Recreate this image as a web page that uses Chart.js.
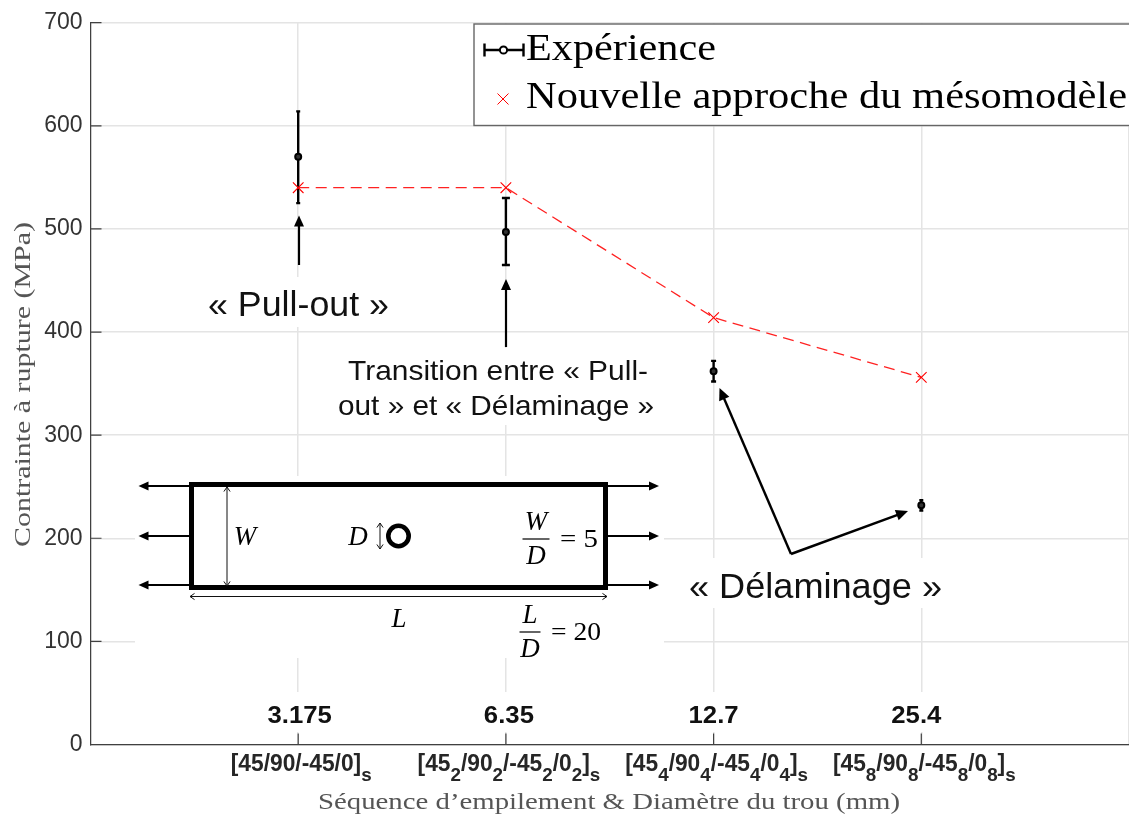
<!DOCTYPE html>
<html>
<head>
<meta charset="utf-8">
<style>html,body{margin:0;padding:0;background:#fff;overflow:hidden}#w{position:relative;width:1129px;height:814px}</style>
<script src="https://cdn.jsdelivr.net/npm/chart.js@4"></script>
</head>
<body>
<div id="w"><canvas id="c" width="1129" height="814"></canvas></div>
<script>
const positions = [1, 2, 3, 4];
const diameters = ["3.175", "6.35", "12.7", "25.4"];
const sequences = ["[45/90/-45/0]_s", "[45_2/90_2/-45_2/0_2]_s", "[45_4/90_4/-45_4/0_4]_s", "[45_8/90_8/-45_8/0_8]_s"];
const experience = [570, 497, 362, 232];
const errorLow = [525, 465, 352, 227];
const errorHigh = [614, 530, 372, 237];
const model = [540, 540, 414, 356];
const expLabel = "Expérience";
const modelLabel = "Nouvelle approche du mésomodèle";
const yLabel = "Contrainte à rupture (MPa)";
const xLabel = "Séquence d’empilement & Diamètre du trou (mm)";

const SANS = '"Liberation Sans", Arial, sans-serif';
const SERIF = '"Liberation Serif", "Times New Roman", serif';

// keep the axes flush with the canvas edge: markers must not add layout padding
Chart.registry.getController('line').prototype.getMaxOverflow = function () { return 0; };

function fitText(ctx, text, x, y, width, rot) {
  const w = ctx.measureText(text).width;
  ctx.save();
  ctx.translate(x, y);
  if (rot) ctx.rotate(rot);
  ctx.scale(width / w, 1);
  ctx.fillText(text, 0, 0);
  ctx.restore();
}
function arrow(ctx, x1, y1, x2, y2, lw, hl, hw, color) {
  const a = Math.atan2(y2 - y1, x2 - x1);
  ctx.strokeStyle = ctx.fillStyle = color || '#000';
  ctx.lineWidth = lw;
  ctx.beginPath();
  ctx.moveTo(x1, y1);
  ctx.lineTo(x2 - Math.cos(a) * hl * 0.8, y2 - Math.sin(a) * hl * 0.8);
  ctx.stroke();
  ctx.beginPath();
  ctx.moveTo(x2, y2);
  ctx.lineTo(x2 - Math.cos(a) * hl - Math.sin(a) * hw, y2 - Math.sin(a) * hl + Math.cos(a) * hw);
  ctx.lineTo(x2 - Math.cos(a) * hl + Math.sin(a) * hw, y2 - Math.sin(a) * hl - Math.cos(a) * hw);
  ctx.closePath();
  ctx.fill();
}
function thinArrow(ctx, x1, y1, x2, y2) {
  const a = Math.atan2(y2 - y1, x2 - x1), h = 5.5, t = 0.6;
  ctx.strokeStyle = '#111';
  ctx.lineWidth = 1;
  ctx.beginPath();
  ctx.moveTo(x1, y1); ctx.lineTo(x2, y2);
  [[x1, y1, a + Math.PI], [x2, y2, a]].forEach(([x, y, d]) => {
    ctx.moveTo(x - Math.cos(d - t) * h, y - Math.sin(d - t) * h);
    ctx.lineTo(x, y);
    ctx.lineTo(x - Math.cos(d + t) * h, y - Math.sin(d + t) * h);
  });
  ctx.stroke();
}
function subLabel(ctx, str, cx, y) {
  const parts = [];
  for (let i = 0; i < str.length; i++) {
    if (str[i] === '_') { parts.push([str[++i], true]); }
    else parts.push([str[i], false]);
  }
  const main = 'bold 23px ' + SANS, sub = 'bold 19px ' + SANS, sx = 0.99;
  let tot = 0;
  parts.forEach(p => { ctx.font = p[1] ? sub : main; tot += ctx.measureText(p[0]).width * sx; });
  let x = cx - tot / 2;
  ctx.textAlign = 'left';
  ctx.textBaseline = 'alphabetic';
  ctx.fillStyle = '#262626';
  parts.forEach(p => {
    ctx.font = p[1] ? sub : main;
    const w = ctx.measureText(p[0]).width * sx;
    fitText(ctx, p[0], x, p[1] ? y + 9.5 : y, w);
    x += w;
  });
}
function frac(ctx, top, bottom, cx, barY, barHalf) {
  ctx.font = 'italic 27px ' + SERIF;
  ctx.textAlign = 'center';
  ctx.textBaseline = 'alphabetic';
  ctx.fillStyle = '#000';
  ctx.fillText(top, cx, barY - 9);
  ctx.fillText(bottom, cx, barY + 25);
  ctx.fillRect(cx - barHalf, barY - 0.6, barHalf * 2, 1.2);
}

const overlay = {
  id: 'overlay',
  beforeDatasetsDraw(chart) {
    const ctx = chart.ctx, x = chart.scales.x, y = chart.scales.y;
    const capHalf = [2, 4, 2.5, 2], diamDx = [1.5, 3, 0, -5];
    ctx.save();
    // white patches hiding the grid behind the pasted annotations
    ctx.fillStyle = '#fff';
    ctx.fillRect(135, 476, 529, 182);
    ctx.fillRect(205, 277, 192, 50);
    ctx.fillRect(336, 348, 324, 77);
    ctx.fillRect(663, 558, 290, 50);
    ctx.fillRect(258, 692, 80, 40);
    ctx.fillRect(470, 692, 70, 40);
    ctx.fillRect(680, 692, 70, 40);
    ctx.fillRect(885, 692, 70, 40);
    // inward tick marks
    ctx.strokeStyle = '#404040';
    ctx.lineWidth = 1.2;
    ctx.beginPath();
    y.ticks.forEach(t => {
      const p = y.getPixelForValue(t.value);
      ctx.moveTo(x.left, p); ctx.lineTo(x.left + 11, p);
    });
    positions.forEach(v => {
      const p = x.getPixelForValue(v);
      ctx.moveTo(p, y.bottom); ctx.lineTo(p, y.bottom - 11);
    });
    ctx.stroke();
    // error bars
    ctx.strokeStyle = '#000';
    ctx.lineWidth = 2.4;
    ctx.beginPath();
    positions.forEach((v, i) => {
      const p = x.getPixelForValue(v), lo = y.getPixelForValue(errorLow[i]), hi = y.getPixelForValue(errorHigh[i]);
      ctx.moveTo(p, lo); ctx.lineTo(p, hi);
      ctx.moveTo(p - capHalf[i], lo); ctx.lineTo(p + capHalf[i], lo);
      ctx.moveTo(p - capHalf[i], hi); ctx.lineTo(p + capHalf[i], hi);
    });
    ctx.stroke();
    // diameter and sequence labels
    positions.forEach((v, i) => {
      const p = x.getPixelForValue(v);
      ctx.font = 'bold 24.5px ' + SANS;
      ctx.fillStyle = '#111';
      ctx.textAlign = 'center';
      ctx.textBaseline = 'alphabetic';
      const w = ctx.measureText(diameters[i]).width * 1.05;
      fitText(ctx, diameters[i], p + diamDx[i], 723, w);
      subLabel(ctx, sequences[i], p + 3, 771);
    });
    // axis titles
    ctx.textAlign = 'center';
    ctx.textBaseline = 'alphabetic';
    ctx.fillStyle = '#555';
    ctx.font = '24px ' + SERIF;
    fitText(ctx, xLabel, 609, 809, 582);
    fitText(ctx, yLabel, 30, 384.5, 325, -Math.PI / 2);
    ctx.restore();
  },
  afterDraw(chart) {
    const ctx = chart.ctx;
    ctx.save();
    // callout arrows
    arrow(ctx, 299, 265, 299, 215.5, 2.2, 11, 5);
    arrow(ctx, 506, 347, 506, 279, 2.2, 11, 5);
    arrow(ctx, 791, 554, 719.5, 388, 2.4, 12, 5.5);
    arrow(ctx, 791, 554, 908, 511, 2.4, 12, 5.5);
    // callout text
    ctx.fillStyle = '#111';
    ctx.textAlign = 'left';
    ctx.textBaseline = 'alphabetic';
    ctx.font = '35px ' + SANS;
    fitText(ctx, '« Pull-out »', 208, 316, 181);
    ctx.font = '34.5px ' + SANS;
    fitText(ctx, '« Délaminage »', 689, 598, 253);
    ctx.font = '28.5px ' + SANS;
    fitText(ctx, 'Transition entre « Pull-', 348, 380, 300);
    fitText(ctx, 'out » et « Délaminage »', 338, 415, 316);
    // specimen schematic
    ctx.strokeStyle = '#000';
    ctx.lineWidth = 5;
    ctx.strokeRect(191.5, 484.5, 414, 103);
    [486, 536, 585].forEach(py => {
      arrow(ctx, 189, py, 138.5, py, 2, 10, 4.5);
      arrow(ctx, 608, py, 659, py, 2, 10, 4.5);
    });
    ctx.strokeStyle = '#000';
    ctx.lineWidth = 4.6;
    ctx.beginPath(); ctx.arc(398.5, 536, 10.2, 0, Math.PI * 2); ctx.stroke();
    thinArrow(ctx, 227, 487, 227, 586);
    thinArrow(ctx, 380, 523, 380, 549);
    thinArrow(ctx, 190, 596.5, 607, 596.5);
    ctx.fillStyle = '#000';
    ctx.font = 'italic 27px ' + SERIF;
    ctx.textAlign = 'center';
    ctx.textBaseline = 'alphabetic';
    ctx.fillText('W', 245, 545);
    ctx.fillText('D', 358, 545);
    ctx.fillText('L', 399, 627);
    frac(ctx, 'W', 'D', 536, 539, 13.5);
    frac(ctx, 'L', 'D', 530, 632, 10.5);
    ctx.font = '26px ' + SERIF;
    ctx.textAlign = 'left';
    fitText(ctx, '= 5', 560, 547, 38);
    fitText(ctx, '= 20', 551, 640, 50);
    // legend
    ctx.fillStyle = '#fff';
    ctx.fillRect(474, 24, 660, 101.5);
    ctx.strokeStyle = '#666';
    ctx.lineWidth = 1.4;
    ctx.strokeRect(474, 24, 660, 101.5);
    ctx.strokeStyle = '#000';
    ctx.lineWidth = 2.4;
    ctx.beginPath();
    ctx.moveTo(484.5, 50); ctx.lineTo(523.5, 50);
    ctx.moveTo(484.5, 43.5); ctx.lineTo(484.5, 56.5);
    ctx.moveTo(523.5, 43.5); ctx.lineTo(523.5, 56.5);
    ctx.stroke();
    ctx.fillStyle = '#fff';
    ctx.lineWidth = 2;
    ctx.beginPath(); ctx.arc(503.5, 50, 3.6, 0, Math.PI * 2); ctx.fill(); ctx.stroke();
    ctx.strokeStyle = '#f00';
    ctx.lineWidth = 1;
    ctx.beginPath();
    ctx.moveTo(497.5, 93.5); ctx.lineTo(508.5, 104.5);
    ctx.moveTo(508.5, 93.5); ctx.lineTo(497.5, 104.5);
    ctx.stroke();
    ctx.fillStyle = '#000';
    ctx.textAlign = 'left';
    ctx.font = '38px ' + SERIF;
    fitText(ctx, expLabel, 526, 60, 190);
    fitText(ctx, modelLabel, 526, 108, 601);
    ctx.restore();
  }
};

new Chart(document.getElementById('c'), {
  type: 'line',
  data: {
    labels: positions,
    datasets: [
      {
        label: modelLabel,
        data: positions.map((v, i) => ({ x: v, y: model[i] })),
        borderColor: '#f22',
        borderWidth: 1.3,
        borderDash: [11, 6.5],
        pointStyle: 'crossRot',
        pointRadius: 7.5,
        pointBorderColor: '#f00',
        pointBorderWidth: 1.1,
        fill: false,
        tension: 0
      },
      {
        label: expLabel,
        data: positions.map((v, i) => ({ x: v, y: experience[i] })),
        showLine: false,
        pointStyle: 'circle',
        pointRadius: 3,
        pointBackgroundColor: '#333',
        pointBorderColor: '#000',
        pointBorderWidth: 2
      }
    ]
  },
  options: {
    responsive: false,
    animation: false,
    layout: { padding: { top: 22.7, left: 0, right: 0, bottom: 0 } },
    plugins: { legend: { display: false }, tooltip: { enabled: false } },
    scales: {
      x: {
        type: 'linear', min: 0, max: 5,
        afterFit(s) { s.height = 814 - 744.5; },
        ticks: { stepSize: 1, display: false },
        grid: { color: '#e4e4e4', lineWidth: 1.5, drawTicks: false },
        border: { color: '#404040', width: 1.2 }
      },
      y: {
        min: 0, max: 700,
        afterFit(s) { s.width = 90.5; },
        ticks: { stepSize: 100, color: '#333', font: { family: SANS, size: 23 }, padding: 8 },
        grid: { color: '#e4e4e4', lineWidth: 1.5, drawTicks: false },
        border: { color: '#404040', width: 1.2 }
      }
    }
  },
  plugins: [overlay]
});
</script>
</body>
</html>
